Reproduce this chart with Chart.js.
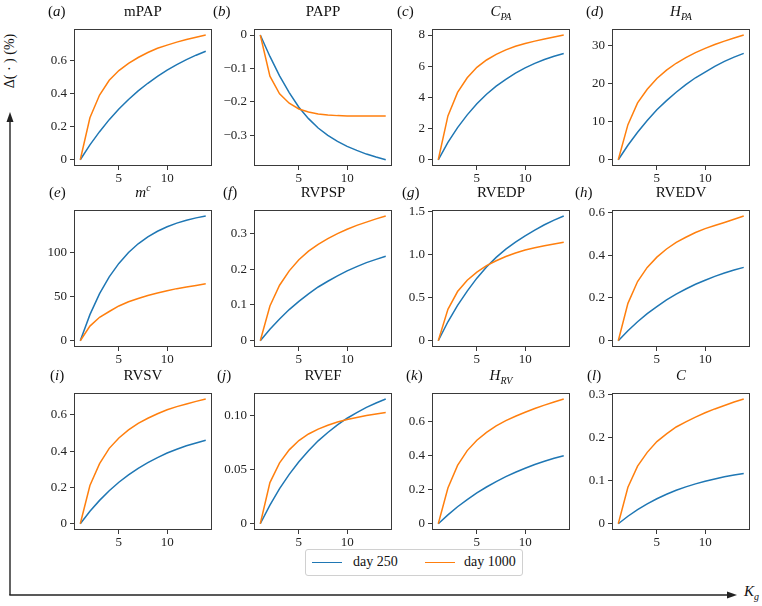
<!DOCTYPE html>
<html>
<head>
<meta charset="utf-8">
<script src="https://cdn.jsdelivr.net/npm/chart.js@4.4.1/dist/chart.umd.min.js"></script>
<style>
  body { margin: 0; background: #fff; font-family: "Liberation Serif", "DejaVu Serif", serif; color: #111; }
  #page { position: relative; width: 762px; height: 606px; overflow: hidden; }
  canvas { position: absolute; }
  .ttl { position: absolute; width: 138px; text-align: center; font-size: 15px; line-height: 16px; }
  .lab { position: absolute; font-size: 15px; line-height: 16px; }
  sub, sup { font-size: 10px; line-height: 0; }
  #legend { position: absolute; left: 305px; top: 549px; width: 216px; height: 25px;
            border: 1px solid #d0d0d0; border-radius: 3px; font-size: 14px; }
  .sw { position: absolute; top: 12px; width: 30px; height: 0; border-top: 1.5px solid; }
  .lt { position: absolute; top: 4px; }
</style>
</head>
<body>
<div id="page">
  <svg width="762" height="606" style="position:absolute;left:0;top:0">
    <line x1="10" y1="595" x2="10" y2="121" stroke="#222" stroke-width="1.4"/>
    <polygon points="10,112 6.5,122 13.5,122" fill="#222"/>
    <line x1="9.3" y1="595" x2="728" y2="595" stroke="#222" stroke-width="1.4"/>
    <polygon points="737,595 727,591.5 727,598.5" fill="#222"/>
  </svg>
  <div style="position:absolute;left:-30px;top:53px;width:80px;text-align:center;font-size:14px;transform:rotate(-90deg)">&Delta;( &middot; ) (%)</div>
  <div style="position:absolute;left:744px;top:583px;font-size:15px"><i>K</i><sub><i>g</i></sub></div>
  <div id="legend">
    <span class="sw" style="left:6px;border-color:#1f77b4"></span><span class="lt" style="left:47px">day 250</span>
    <span class="sw" style="left:119px;border-color:#ff7f0e"></span><span class="lt" style="left:158px">day 1000</span>
  </div>
</div>
<script>
const BLUE = '#1f77b4';
const ORANGE = '#ff7f0e';
const AX = '#3a3a3a';

const kg = [1, 2, 3, 4, 5, 6, 7, 8, 9, 10, 11, 12, 13, 14];
const xTicks = [5, 10];

// (a) mPAP
const mpap250  = [0, 0.090, 0.170, 0.243, 0.307, 0.365, 0.417, 0.463, 0.505, 0.542, 0.576, 0.606, 0.633, 0.657];
const mpap1000 = [0, 0.254, 0.392, 0.481, 0.540, 0.584, 0.619, 0.649, 0.675, 0.694, 0.712, 0.728, 0.742, 0.755];
// (b) PAPP
const papp250  = [0, -0.064, -0.122, -0.172, -0.216, -0.250, -0.278, -0.300, -0.318, -0.333, -0.345, -0.356, -0.365, -0.373];
const papp1000 = [0, -0.123, -0.176, -0.204, -0.221, -0.230, -0.236, -0.239, -0.241, -0.242, -0.242, -0.242, -0.242, -0.242];
// (c) C_PA
const cpa250   = [0, 1.11, 2.06, 2.88, 3.59, 4.20, 4.72, 5.16, 5.56, 5.89, 6.18, 6.43, 6.64, 6.82];
const cpa1000  = [0, 2.81, 4.32, 5.26, 5.93, 6.40, 6.76, 7.05, 7.28, 7.46, 7.61, 7.74, 7.87, 8.00];
// (d) H_PA
const hpa250   = [0, 3.8, 7.2, 10.3, 13.1, 15.5, 17.7, 19.7, 21.5, 23.0, 24.5, 25.8, 26.9, 27.9];
const hpa1000  = [0, 9.2, 14.9, 18.5, 21.3, 23.5, 25.3, 26.8, 28.1, 29.2, 30.2, 31.1, 31.9, 32.7];
// (e) m^c
const mc250    = [0, 29.7, 53.6, 72.7, 88.0, 100.4, 110.3, 118.3, 124.6, 129.7, 133.8, 137.1, 139.8, 141.9];
const mc1000   = [0, 16.7, 26.7, 33.3, 39.6, 44.4, 48.1, 51.5, 54.4, 57.0, 59.3, 61.1, 63.0, 64.8];
// (f) RVPSP
const rvpsp250  = [0, 0.032, 0.061, 0.087, 0.110, 0.131, 0.150, 0.166, 0.181, 0.195, 0.207, 0.218, 0.227, 0.236];
const rvpsp1000 = [0, 0.097, 0.155, 0.195, 0.226, 0.250, 0.269, 0.285, 0.299, 0.311, 0.322, 0.331, 0.340, 0.348];
// (g) RVEDP
const rvedp250  = [0, 0.22, 0.41, 0.575, 0.725, 0.855, 0.965, 1.06, 1.142, 1.215, 1.282, 1.343, 1.397, 1.444];
const rvedp1000 = [0, 0.364, 0.570, 0.701, 0.795, 0.870, 0.926, 0.975, 1.016, 1.050, 1.076, 1.099, 1.121, 1.140];
// (h) RVEDV
const rvedv250  = [0, 0.047, 0.089, 0.127, 0.160, 0.191, 0.218, 0.242, 0.264, 0.283, 0.301, 0.317, 0.331, 0.343];
const rvedv1000 = [0, 0.175, 0.277, 0.343, 0.391, 0.429, 0.460, 0.484, 0.506, 0.524, 0.539, 0.553, 0.568, 0.583];
// (i) RVSV
const rvsv250   = [0, 0.069, 0.129, 0.182, 0.229, 0.270, 0.306, 0.337, 0.365, 0.390, 0.411, 0.430, 0.446, 0.461];
const rvsv1000  = [0, 0.211, 0.332, 0.416, 0.473, 0.518, 0.554, 0.582, 0.607, 0.629, 0.646, 0.661, 0.675, 0.688];
// (j) RVEF
const rvef250   = [0, 0.0172, 0.0323, 0.0455, 0.0571, 0.0673, 0.0764, 0.0841, 0.0911, 0.0972, 0.1024, 0.1072, 0.1113, 0.1149];
const rvef1000  = [0, 0.0379, 0.0561, 0.0681, 0.0767, 0.0827, 0.0872, 0.0907, 0.0937, 0.0961, 0.0979, 0.0997, 0.1012, 0.1024];
// (k) H_RV
const hrv250    = [0, 0.052, 0.100, 0.142, 0.181, 0.216, 0.248, 0.277, 0.303, 0.326, 0.348, 0.367, 0.385, 0.400];
const hrv1000   = [0, 0.210, 0.343, 0.430, 0.491, 0.537, 0.575, 0.606, 0.632, 0.655, 0.677, 0.697, 0.716, 0.733];
// (l) C
const c250      = [0, 0.0175, 0.0329, 0.0463, 0.0581, 0.0686, 0.0778, 0.0857, 0.0928, 0.0990, 0.1043, 0.1092, 0.1134, 0.1170];
const c1000     = [0, 0.085, 0.134, 0.166, 0.191, 0.209, 0.225, 0.237, 0.248, 0.258, 0.267, 0.275, 0.283, 0.290];

// y tick values and their labels
const ticks02 = [0, 0.2, 0.4, 0.6];
const labels02 = ['0', '0.2', '0.4', '0.6'];
const tickPapp = [0, -0.1, -0.2, -0.3];
const labelPapp = ['0', '\u22120.1', '\u22120.2', '\u22120.3'];
const tickCpa = [0, 2, 4, 6, 8];
const tickHpa = [0, 10, 20, 30];
const tickMc = [0, 50, 100];
const ticks01 = [0, 0.1, 0.2, 0.3];
const labels01 = ['0', '0.1', '0.2', '0.3'];
const tickRvedp = [0, 0.5, 1.0, 1.5];
const labelRvedp = ['0', '0.5', '1.0', '1.5'];
const tickRvef = [0, 0.05, 0.10];
const labelRvef = ['0', '0.05', '0.10'];

const titles = ['mPAP', 'PAPP', '<i>C</i><sub><i>PA</i></sub>', '<i>H</i><sub><i>PA</i></sub>',
  '<i>m</i><sup><i>c</i></sup>', 'RVPSP', 'RVEDP', 'RVEDV',
  'RVSV', 'RVEF', '<i>H</i><sub><i>RV</i></sub>', '<i>C</i>'];
const letters = ['a', 'b', 'c', 'd', 'e', 'f', 'g', 'h', 'i', 'j', 'k', 'l'];

const panels = [
  [mpap250, mpap1000, ticks02, labels02],
  [papp250, papp1000, tickPapp, labelPapp],
  [cpa250, cpa1000, tickCpa, tickCpa.map(String)],
  [hpa250, hpa1000, tickHpa, tickHpa.map(String)],
  [mc250, mc1000, tickMc, tickMc.map(String)],
  [rvpsp250, rvpsp1000, ticks01, labels01],
  [rvedp250, rvedp1000, tickRvedp, labelRvedp],
  [rvedv250, rvedv1000, ticks02, labels02],
  [rvsv250, rvsv1000, ticks02, labels02],
  [rvef250, rvef1000, tickRvef, labelRvef],
  [hrv250, hrv1000, ticks02, labels02],
  [c250, c1000, ticks01, labels01]
];

// layout of the grid (plot area corners) and the panel letter x positions
const colLeft = [74, 254, 432, 612];
const rowTop = [23.5, 205, 388];
const plotW = 138, plotH = 142;
const letterX = [48, 213, 397, 586, 49, 223, 402, 575, 50, 217, 406, 587];

Chart.defaults.font.family = '"Liberation Serif", "DejaVu Serif", serif';
Chart.defaults.font.size = 13;
Chart.defaults.color = '#222';

const frame = {
  id: 'frame',
  afterDraw(chart) {
    const a = chart.chartArea, c = chart.ctx;
    c.save();
    c.strokeStyle = AX;
    c.lineWidth = 1;
    c.strokeRect(Math.round(a.left) + 0.5, Math.round(a.top) + 0.5,
                 Math.round(a.right - a.left) - 1, Math.round(a.bottom - a.top) - 1);
    c.restore();
  }
};

const page = document.getElementById('page');

panels.forEach((p, i) => {
  const [blue, orange, yt, yl] = p;
  const col = i % 4, row = Math.floor(i / 4);
  const left = colLeft[col], top = rowTop[row];

  const cv = document.createElement('canvas');
  cv.width = 40 + plotW + 8;
  cv.height = 6 + plotH + 22;
  cv.style.left = (left - 40) + 'px';
  cv.style.top = (top - 6) + 'px';
  page.appendChild(cv);

  const t = document.createElement('div');
  t.className = 'ttl';
  t.style.left = left + 'px';
  t.style.top = (top - 21) + 'px';
  t.innerHTML = titles[i];
  page.appendChild(t);

  const l = document.createElement('div');
  l.className = 'lab';
  l.style.left = letterX[i] + 'px';
  l.style.top = (top - 21) + 'px';
  l.innerHTML = '(<i>' + letters[i] + '</i>)';
  page.appendChild(l);

  const all = blue.concat(orange);
  const lo = Math.min(...all), hi = Math.max(...all);
  const pad = (hi - lo) * 0.05;

  new Chart(cv, {
    type: 'line',
    plugins: [frame],
    data: {
      datasets: [{
        label: 'day 250',
        data: kg.map((x, k) => ({ x: x, y: blue[k] })),
        borderColor: BLUE,
        borderWidth: 1.5,
        pointRadius: 0,
        tension: 0,
        order: 1
      }, {
        label: 'day 1000',
        data: kg.map((x, k) => ({ x: x, y: orange[k] })),
        borderColor: ORANGE,
        borderWidth: 1.5,
        pointRadius: 0,
        tension: 0,
        order: 0
      }]
    },
    options: {
      responsive: false,
      animation: false,
      events: [],
      layout: { padding: { top: 6, right: 8, left: 0, bottom: 0 } },
      plugins: { legend: { display: false }, tooltip: { enabled: false } },
      scales: {
        x: {
          type: 'linear',
          min: 0.35,
          max: 14.65,
          afterBuildTicks: s => { s.ticks = xTicks.map(v => ({ value: v })); },
          afterFit: s => { s.height = 22; },
          grid: { drawOnChartArea: false, tickLength: 4, color: AX },
          border: { display: false },
          ticks: { padding: 1, maxRotation: 0, autoSkip: false }
        },
        y: {
          min: lo - pad,
          max: hi + pad,
          afterBuildTicks: s => { s.ticks = yt.map(v => ({ value: v })); },
          afterFit: s => { s.width = 40; },
          grid: { drawOnChartArea: false, tickLength: 4, color: AX },
          border: { display: false },
          ticks: { padding: 3, autoSkip: false, callback: (v, k) => yl[k] }
        }
      }
    }
  });
});
</script>
</body>
</html>
